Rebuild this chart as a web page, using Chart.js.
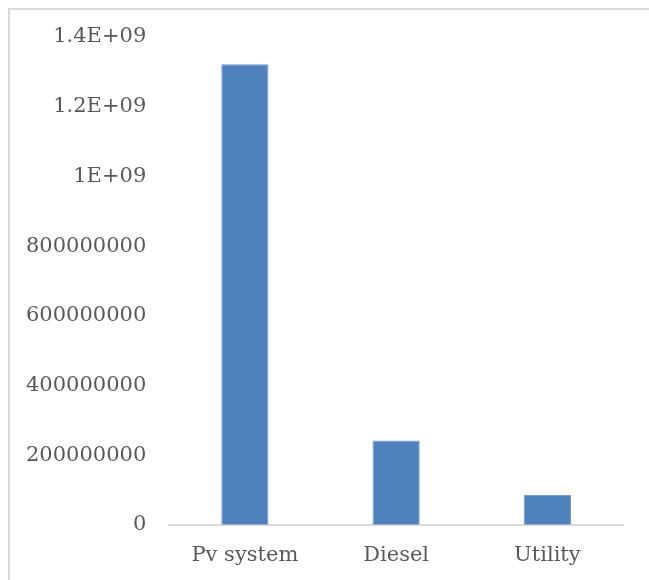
<!DOCTYPE html>
<html>
<head>
<meta charset="utf-8">
<script src="https://cdn.jsdelivr.net/npm/chart.js@4"></script>
<style>
  html, body { margin: 0; padding: 0; background: #fff; }
  #wrap { position: relative; width: 649px; height: 580px; }
  #frame {
    position: absolute; left: 8px; top: 8px; right: 0; bottom: 0;
    border-left: 2px solid #d9d9d9; border-top: 2px solid #d9d9d9;
  }
  #chart { position: absolute; left: 0; top: 0; }
</style>
</head>
<body>
<div id="wrap">
  <div id="frame"></div>
  <canvas id="chart" width="649" height="580"></canvas>
</div>
<script>
// chart data
var categories = ['Pv system', 'Diesel', 'Utility'];
var costs = [1322000000, 242000000, 86000000];
var yTicks = [0, 200000000, 400000000, 600000000, 800000000, 1000000000, 1200000000, 1400000000];

var textColor = '#595959';

// excel style labels: big numbers go to E notation
function formatTick(v) {
    if (v >= 1e9) {
        var m = v / 1e9;
        return (Math.round(m * 10) / 10) + 'E+09';
    }
    return String(v);
}

var canvas = document.getElementById('chart');
var myChart = new Chart(canvas, {
    type: 'bar',
    data: {
        labels: categories,
        datasets: [{
            data: costs,
            backgroundColor: '#4f81bd',
            borderColor: '#6b95c9',
            borderWidth: 1,
            barPercentage: 0.312,
            categoryPercentage: 1
        }]
    },
    options: {
        responsive: false,
        animation: false,
        layout: { padding: { left: 3, right: 26, top: 37, bottom: 2 } },
        plugins: { legend: { display: false }, tooltip: { enabled: false } },
        scales: {
            x: {
                grid: { display: false },
                border: { color: '#d9d9d9', width: 2 },
                ticks: { color: textColor, padding: 10, font: { family: 'DejaVu Serif', size: 21 } }
            },
            y: {
                min: 0,
                max: yTicks[yTicks.length - 1],
                afterBuildTicks: function (axis) {
                    axis.ticks = yTicks.map(function (v) { return { value: v }; });
                },
                grid: { display: false, drawTicks: false },
                border: { display: false },
                ticks: {
                    color: textColor,
                    padding: 23,
                    font: { family: 'DejaVu Serif', size: 21 },
                    callback: function (v) { return formatTick(v); }
                }
            }
        }
    }
});
</script>
</body>
</html>
